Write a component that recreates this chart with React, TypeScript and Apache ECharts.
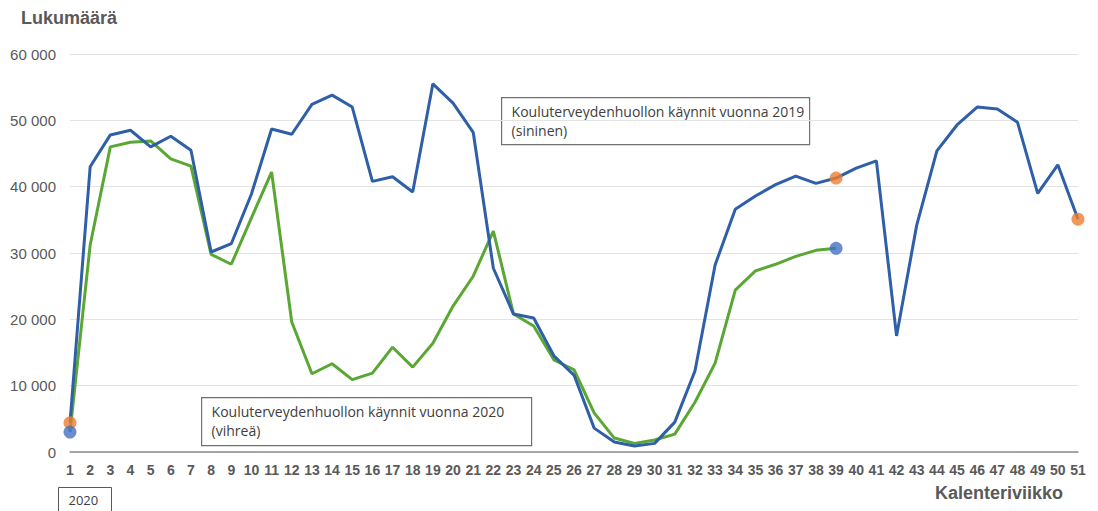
import React, { useEffect, useRef } from "react";
import * as echarts from "echarts";

const weeks: string[] = Array.from({ length: 51 }, (_, i) => String(i + 1));

const visits2019: number[] = [
  4400, 43000, 47800, 48500, 46000, 47600, 45500, 30150, 31400, 38900,
  48700, 47900, 52400, 53800, 52000, 40800, 41500, 39200, 55500, 52600,
  48200, 27700, 20800, 20200, 14500, 11600, 3600, 1500, 900, 1300,
  4500, 12200, 28200, 36600, 38600, 40300, 41600, 40500, 41300, 42800,
  43900, 17500, 34200, 45400, 49300, 52000, 51700, 49700, 39000, 43300,
  35100,
];

const visits2020: number[] = [
  3000, 31200, 46000, 46700, 46900, 44200, 43100, 29800, 28300, 35300,
  42200, 19600, 11800, 13300, 10900, 11900, 15800, 12800, 16400, 22000,
  26500, 33300, 20800, 19000, 13900, 12400, 5900, 2100, 1300, 1800,
  2700, 7500, 13400, 24400, 27300, 28300, 29500, 30400, 30700,
];

const orangeMarkIdx: number[] = [0, 38, 50];
const blueMarkIdx: number[] = [0, 38];

const yTicks: number[] = [0, 10000, 20000, 30000, 40000, 50000, 60000];

const label2019 = ["Kouluterveydenhuollon käynnit vuonna 2019", "(sininen)"];
const label2020 = ["Kouluterveydenhuollon käynnit vuonna 2020", "(vihreä)"];

export default function App() {
  const ref = useRef<HTMLDivElement>(null);
  useEffect(() => {
    if (!ref.current) return;
    const chart = echarts.init(ref.current, null, { renderer: "svg" });
    const fmt = (v: number) =>
      String(v).replace(/\B(?=(\d{3})+(?!\d))/g, " ");
    const boxText = (lines: string[]) => lines.join("\n");
    chart.setOption({
      animation: false,
      backgroundColor: "#ffffff",
      grid: { left: 70, right: 20, top: 54, height: 398 },
      xAxis: {
        type: "category",
        data: weeks,
        boundaryGap: false,
        axisLine: { lineStyle: { color: "#8c8c8c", width: 1.5 } },
        axisTick: { show: false },
        axisLabel: {
          interval: 0,
          color: "#595959",
          fontFamily: "Liberation Sans",
          fontWeight: "bold",
          fontSize: 14,
          margin: 11,
        },
      },
      yAxis: {
        type: "value",
        min: yTicks[0],
        max: yTicks[yTicks.length - 1],
        interval: 10000,
        axisLine: { show: false },
        axisTick: { show: false },
        splitLine: { lineStyle: { color: "#e3e3e3", width: 1 } },
        axisLabel: {
          color: "#595959",
          fontFamily: "Liberation Sans",
          fontSize: 15,
          margin: 14,
          formatter: (v: number) => fmt(v),
        },
      },
      series: [
        {
          type: "line",
          name: "2019",
          data: visits2019,
          symbol: "none",
          lineStyle: { color: "#2f5fa7", width: 3 },
          z: 3,
        },
        {
          type: "line",
          name: "2020",
          data: visits2020,
          symbol: "none",
          lineStyle: { color: "#5aa734", width: 3 },
          z: 2,
        },
        {
          type: "scatter",
          data: orangeMarkIdx.map((i) => [i, visits2019[i]]),
          symbolSize: 13,
          itemStyle: { color: "#ed7d31" },
          z: 5,
        },
        {
          type: "scatter",
          data: blueMarkIdx.map((i) => [i, visits2020[i]]),
          symbolSize: 13,
          itemStyle: { color: "#4472c4" },
          z: 5,
        },
      ],
      graphic: [
        {
          type: "text",
          left: 21,
          top: 9,
          style: {
            text: "Lukumäärä",
            fill: "#595959",
            font: "bold 18px 'Liberation Sans'",
          },
        },
        {
          type: "text",
          left: 935,
          top: 484,
          style: {
            text: "Kalenteriviikko",
            fill: "#595959",
            font: "bold 18px 'Liberation Sans'",
          },
        },
        {
          type: "group",
          left: 58,
          top: 487,
          children: [
            {
              type: "rect",
              shape: { x: 0, y: 0, width: 53, height: 28 },
              style: { fill: "#ffffff", stroke: "#595959", lineWidth: 1 },
            },
            {
              type: "text",
              x: 10,
              y: 6,
              style: {
                text: "2020",
                fill: "#404040",
                font: "13px 'Open Sans'",
              },
            },
          ],
        },
        {
          type: "group",
          left: 501,
          top: 97,
          z: 10,
          children: [
            {
              type: "rect",
              shape: { x: 0, y: 0, width: 308, height: 47 },
              style: { fill: "#ffffff", stroke: "#707070", lineWidth: 1.2 },
            },
            {
              type: "text",
              x: 10,
              y: 4,
              style: {
                text: boxText(label2019),
                fill: "#404040",
                font: "14px 'Open Sans'",
                lineHeight: 19,
              },
            },
          ],
        },
        {
          type: "group",
          left: 201,
          top: 397,
          z: 10,
          children: [
            {
              type: "rect",
              shape: { x: 0, y: 0, width: 330, height: 48 },
              style: { fill: "#ffffff", stroke: "#707070", lineWidth: 1.2 },
            },
            {
              type: "text",
              x: 10,
              y: 4,
              style: {
                text: boxText(label2020),
                fill: "#404040",
                font: "14px 'Open Sans'",
                lineHeight: 19,
              },
            },
          ],
        },
      ],
    });
    return () => chart.dispose();
  }, []);
  return (
    <div
      ref={ref}
      style={{ position: "fixed", left: 0, top: 0, width: 1098, height: 511 }}
    />
  );
}
